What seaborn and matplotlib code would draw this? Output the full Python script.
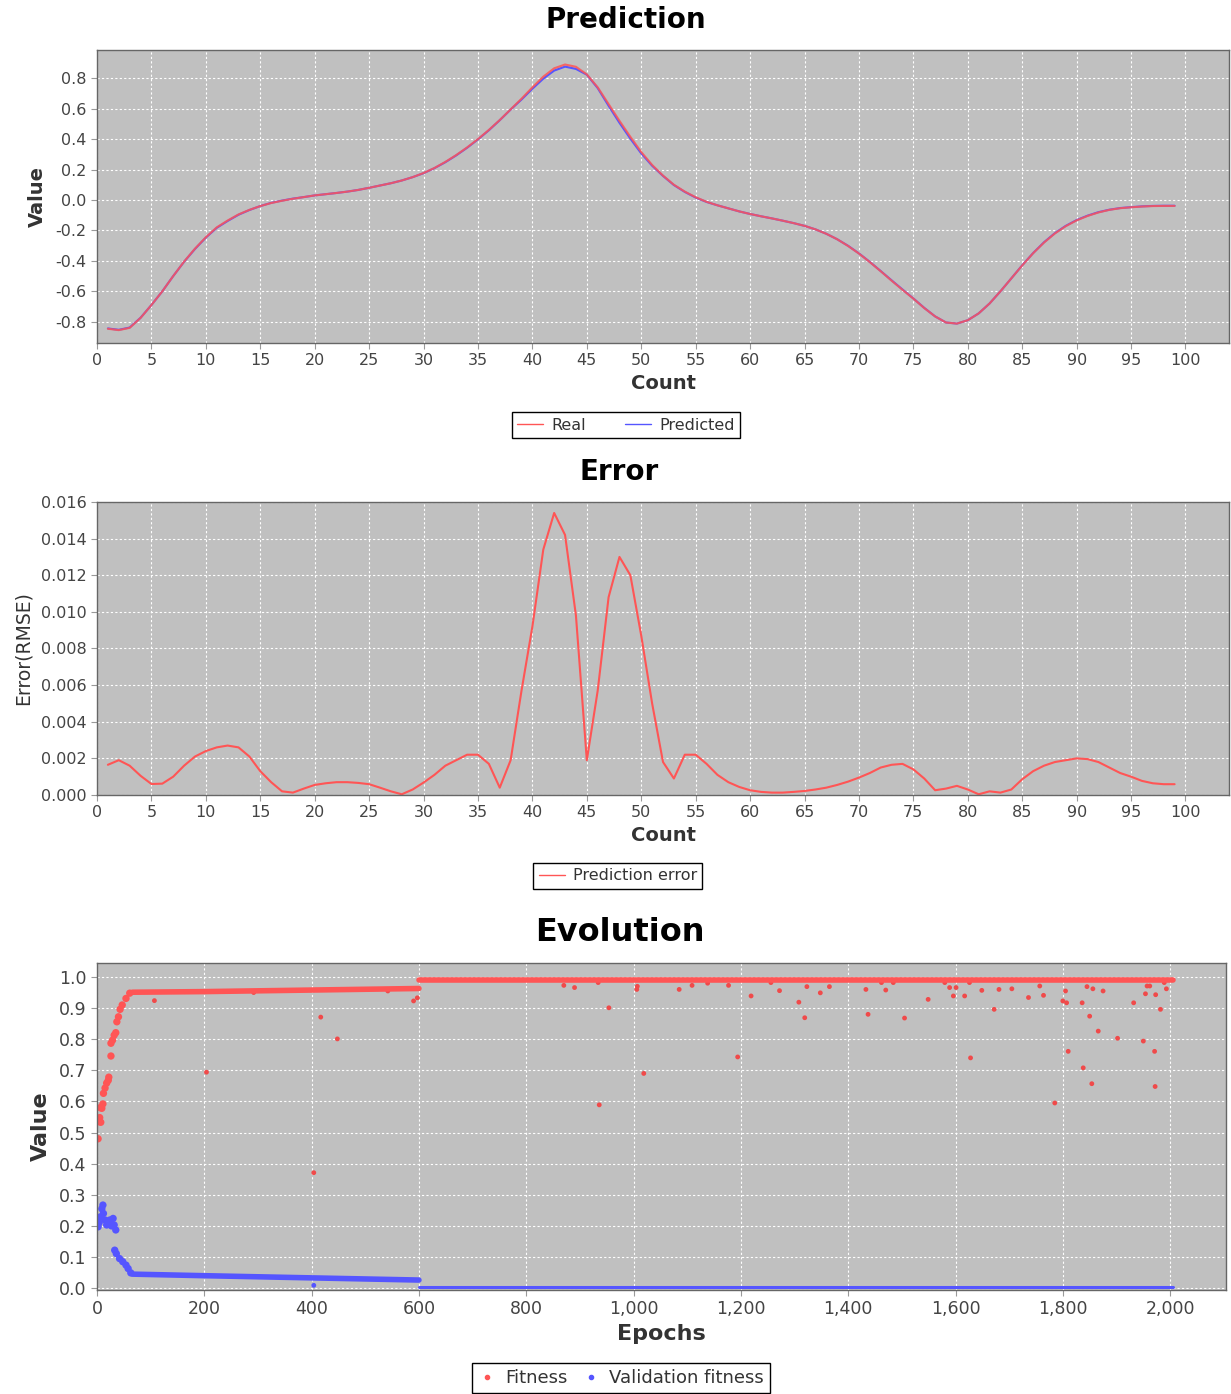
import numpy as np
import pandas as pd
import matplotlib
matplotlib.use('Agg')
import matplotlib.pyplot as plt
from matplotlib.lines import Line2D
from matplotlib.ticker import FuncFormatter, MultipleLocator
import seaborn as sns

# --- prediction panel ---
count = np.arange(1, 100)
real = [-0.846, -0.855, -0.84, -0.775, -0.69, -0.6, -0.5, -0.405, -0.32, -0.245,
        -0.18, -0.135, -0.095, -0.065, -0.04, -0.02, -0.005, 0.008, 0.019, 0.03,
        0.038, 0.046, 0.055, 0.066, 0.08, 0.095, 0.11, 0.128, 0.15, 0.177,
        0.21, 0.25, 0.295, 0.345, 0.4, 0.46, 0.525, 0.595, 0.665, 0.74,
        0.81, 0.865, 0.89, 0.875, 0.825, 0.74, 0.63, 0.52, 0.415, 0.315,
        0.23, 0.16, 0.1, 0.055, 0.018, -0.012, -0.035, -0.055, -0.075, -0.092,
        -0.107, -0.121, -0.136, -0.152, -0.17, -0.193, -0.222, -0.258, -0.302, -0.352,
        -0.408, -0.468, -0.53, -0.59, -0.648, -0.71, -0.765, -0.805, -0.812, -0.79,
        -0.745, -0.68, -0.6, -0.515, -0.43, -0.35, -0.28, -0.22, -0.172, -0.134,
        -0.105, -0.082, -0.065, -0.054, -0.048, -0.043, -0.04, -0.039, -0.039]
predicted = [-0.844, -0.853, -0.838, -0.774, -0.69, -0.6, -0.5, -0.406, -0.322, -0.247,
             -0.183, -0.138, -0.097, -0.066, -0.04, -0.019, -0.004, 0.009, 0.019, 0.03,
             0.038, 0.046, 0.055, 0.066, 0.08, 0.095, 0.11, 0.128, 0.15, 0.176,
             0.209, 0.248, 0.293, 0.343, 0.398, 0.458, 0.524, 0.594, 0.66, 0.731,
             0.797, 0.85, 0.876, 0.861, 0.823, 0.735, 0.619, 0.507, 0.403, 0.306,
             0.225, 0.158, 0.098, 0.053, 0.016, -0.013, -0.035, -0.055, -0.075, -0.092,
             -0.107, -0.121, -0.136, -0.152, -0.17, -0.193, -0.222, -0.258, -0.301, -0.351,
             -0.407, -0.467, -0.528, -0.588, -0.647, -0.709, -0.765, -0.805, -0.812, -0.79,
             -0.745, -0.68, -0.6, -0.515, -0.429, -0.349, -0.278, -0.218, -0.17, -0.132,
             -0.103, -0.08, -0.064, -0.053, -0.047, -0.042, -0.039, -0.038, -0.038]

# --- error panel ---
error = [0.00165, 0.0019, 0.0016, 0.00105, 0.0006, 0.00062, 0.001, 0.0016, 0.0021, 0.0024,
         0.0026, 0.0027, 0.0026, 0.0021, 0.0013, 0.0007, 0.0002, 0.00013, 0.00035, 0.00055,
         0.00064, 0.0007, 0.0007, 0.00066, 0.00059, 0.0004, 0.0002, 0.00004, 0.0003, 0.00068,
         0.0011, 0.0016, 0.0019, 0.0022, 0.0022, 0.0017, 0.0004, 0.0019, 0.0057, 0.0092,
         0.0134, 0.0154, 0.0142, 0.0098, 0.0019, 0.0057, 0.0108, 0.013, 0.012, 0.0087,
         0.005, 0.0018, 0.0009, 0.0022, 0.0022, 0.0017, 0.0011, 0.0007, 0.00044, 0.00026,
         0.00017, 0.00013, 0.00013, 0.00017, 0.00022, 0.0003, 0.0004, 0.00055, 0.00073, 0.00095,
         0.0012, 0.0015, 0.00165, 0.0017, 0.0014, 0.0009, 0.00026, 0.00035, 0.0005, 0.0003,
         0.00004, 0.0002, 0.00013, 0.0003, 0.00086, 0.0013, 0.0016, 0.0018, 0.0019, 0.002,
         0.00196, 0.0018, 0.0015, 0.0012, 0.001, 0.00077, 0.00064, 0.00059, 0.00059]

# --- evolution panel ---
fit_early_epoch = [2, 4, 5, 6, 7, 9, 11, 12, 15, 18, 21, 22, 26, 26, 29, 32, 35, 37, 40, 43, 47, 54, 61]
fit_early_value = [0.48, 0.535, 0.548, 0.58, 0.533, 0.578, 0.592, 0.626, 0.643, 0.659, 0.668, 0.678,
                   0.746, 0.787, 0.797, 0.813, 0.821, 0.856, 0.872, 0.896, 0.91, 0.931, 0.948]
fit_band1_epoch = [66, 200, 400, 600]
fit_band1_value = [0.951, 0.953, 0.958, 0.963]
fit_band2_epoch = [601, 2005]
fit_band2_value = [0.991, 0.991]
fit_out_epoch = [107, 204, 292, 404, 417, 448, 542, 590, 597, 870, 890, 934, 936, 954,
                 1006, 1007, 1019, 1085, 1109, 1138, 1177, 1194, 1219, 1256, 1272, 1308,
                 1319, 1323, 1348, 1365, 1433, 1437, 1462, 1470, 1484, 1505, 1549, 1580,
                 1589, 1596, 1601, 1617, 1626, 1628, 1649, 1672, 1681, 1705, 1736, 1757,
                 1764, 1785, 1800, 1805, 1807, 1810, 1836, 1838, 1845, 1850, 1854, 1856,
                 1866, 1875, 1902, 1932, 1950, 1954, 1957, 1962, 1971, 1972, 1973, 1982,
                 1989, 1993]
fit_out_value = [0.924, 0.694, 0.95, 0.371, 0.871, 0.801, 0.955, 0.923, 0.933, 0.973, 0.966,
                 0.982, 0.589, 0.901, 0.96, 0.97, 0.69, 0.96, 0.973, 0.98, 0.973, 0.743,
                 0.939, 0.982, 0.956, 0.919, 0.869, 0.969, 0.949, 0.969, 0.96, 0.88, 0.982,
                 0.958, 0.982, 0.868, 0.928, 0.982, 0.966, 0.939, 0.966, 0.939, 0.982, 0.74,
                 0.957, 0.896, 0.96, 0.962, 0.934, 0.971, 0.941, 0.595, 0.923, 0.955, 0.917,
                 0.761, 0.917, 0.708, 0.969, 0.874, 0.657, 0.962, 0.826, 0.955, 0.803, 0.917,
                 0.794, 0.946, 0.971, 0.971, 0.761, 0.648, 0.943, 0.896, 0.982, 0.962]

val_early_epoch = [2, 4, 6, 9, 11, 12, 15, 18, 21, 24, 27, 30, 32, 33, 35, 36, 42, 48, 54, 58, 63]
val_early_value = [0.197, 0.21, 0.229, 0.255, 0.267, 0.24, 0.219, 0.203, 0.21, 0.219, 0.2, 0.224,
                   0.203, 0.122, 0.187, 0.111, 0.095, 0.085, 0.074, 0.063, 0.049]
val_band1_epoch = [66, 200, 400, 600]
val_band1_value = [0.045, 0.040, 0.033, 0.026]
val_band2_epoch = [601, 2005]
val_band2_value = [0.004, 0.004]
val_out_epoch = [404]
val_out_value = [0.009]

RED = '#ff5555'
BLUE = '#5555ff'
BG = '#c0c0c0'

sns.set_style('darkgrid', {
    'axes.facecolor': BG,
    'grid.color': 'white',
    'grid.linestyle': (0, (2, 2)),
    'axes.edgecolor': '#555555',
})
plt.rcParams['font.family'] = ['DejaVu Sans']
plt.rcParams['grid.linewidth'] = 0.8

fig = plt.figure(figsize=(12.31, 13.94), dpi=100)
ax1 = fig.add_axes([0.0788, 0.7539, 0.9196, 0.2102])
ax2 = fig.add_axes([0.0788, 0.4297, 0.9196, 0.2102])
ax3 = fig.add_axes([0.0788, 0.0746, 0.9171, 0.2346])


def style_axis(ax):
    for sp in ax.spines.values():
        sp.set_visible(True)
        sp.set_color('#666666')
        sp.set_linewidth(1.0)
    ax.tick_params(axis='both', which='major', direction='out', length=4,
                   width=0.8, color='#999999', labelsize=11.5, labelcolor='#444444',
                   bottom=True, left=True)
    ax.grid(True, color='white', linestyle=(0, (2, 2)), linewidth=0.8)


# Prediction
pred_df = pd.DataFrame({'count': count, 'Real': real, 'Predicted': predicted})
sns.lineplot(data=pred_df, x='count', y='Predicted', ax=ax1, color=BLUE, linewidth=1.5)
sns.lineplot(data=pred_df, x='count', y='Real', ax=ax1, color=RED, linewidth=1.5, alpha=0.85)
ax1.set_xlim(0, 104)
ax1.set_ylim(-0.94, 0.985)
ax1.xaxis.set_major_locator(MultipleLocator(5))
ax1.yaxis.set_major_locator(MultipleLocator(0.2))
ax1.yaxis.set_major_formatter(FuncFormatter(lambda v, p: f'{v:.1f}'))
ax1.set_xlabel('Count', fontsize=14, fontweight='bold', color='#333333', labelpad=4)
ax1.set_ylabel('Value', fontsize=14, fontweight='bold', color='#333333', labelpad=6)
style_axis(ax1)

# Error
err_df = pd.DataFrame({'count': count, 'error': error})
sns.lineplot(data=err_df, x='count', y='error', ax=ax2, color=RED, linewidth=1.5)
ax2.set_xlim(0, 104)
ax2.set_ylim(0, 0.016)
ax2.xaxis.set_major_locator(MultipleLocator(5))
ax2.yaxis.set_major_locator(MultipleLocator(0.002))
ax2.yaxis.set_major_formatter(FuncFormatter(lambda v, p: f'{v:.3f}'))
ax2.set_xlabel('Count', fontsize=14, fontweight='bold', color='#333333', labelpad=4)
ax2.set_ylabel('Error(RMSE)', fontsize=13.5, color='#333333', labelpad=6)
style_axis(ax2)

# Evolution
sns.lineplot(x=val_band1_epoch, y=val_band1_value, ax=ax3, color=BLUE, linewidth=4)
sns.lineplot(x=val_band2_epoch, y=val_band2_value, ax=ax3, color=BLUE, linewidth=2.2)
sns.scatterplot(x=val_early_epoch, y=val_early_value, ax=ax3, color=BLUE, s=28,
                edgecolor='none')
sns.scatterplot(x=val_out_epoch, y=val_out_value, ax=ax3, color=BLUE, s=12, edgecolor='none')
sns.lineplot(x=fit_band1_epoch, y=fit_band1_value, ax=ax3, color=RED, linewidth=4)
sns.lineplot(x=fit_band2_epoch, y=fit_band2_value, ax=ax3, color=RED, linewidth=4)
sns.scatterplot(x=fit_early_epoch, y=fit_early_value, ax=ax3, color=RED, s=28,
                edgecolor='none')
sns.scatterplot(x=fit_out_epoch, y=fit_out_value, ax=ax3, color='#f04a4a', s=12,
                edgecolor='none')
ax3.set_xlim(0, 2104)
ax3.set_ylim(-0.006, 1.045)
ax3.xaxis.set_major_locator(MultipleLocator(200))
ax3.xaxis.set_major_formatter(FuncFormatter(lambda v, p: f'{int(v):,}'))
ax3.yaxis.set_major_locator(MultipleLocator(0.1))
ax3.yaxis.set_major_formatter(FuncFormatter(lambda v, p: f'{v:.1f}'))
ax3.set_xlabel('Epochs', fontsize=16, fontweight='bold', color='#333333', labelpad=4)
ax3.set_ylabel('Value', fontsize=16, fontweight='bold', color='#333333', labelpad=6)
style_axis(ax3)
ax3.tick_params(labelsize=12.5)

# titles
fig.text(0.5085, 0.9857, 'Prediction', ha='center', va='center', fontsize=20,
         fontweight='bold', color='black')
fig.text(0.503, 0.6614, 'Error', ha='center', va='center', fontsize=20,
         fontweight='bold', color='black')
fig.text(0.5037, 0.3314, 'Evolution', ha='center', va='center', fontsize=23,
         fontweight='bold', color='black')

# legends
leg_kw = dict(loc='center', frameon=True, fancybox=False, framealpha=1,
              facecolor='white', edgecolor='black', borderpad=0.35, handletextpad=0.5)
h1 = [Line2D([], [], color=RED, lw=1), Line2D([], [], color=BLUE, lw=1)]
l1 = fig.legend(h1, ['Real', 'Predicted'], bbox_to_anchor=(0.5085, 0.6951), ncol=2,
                fontsize=11.5, handlelength=1.6, columnspacing=2.5, **leg_kw)
h2 = [Line2D([], [], color=RED, lw=1)]
l2 = fig.legend(h2, ['Prediction error'], bbox_to_anchor=(0.502, 0.3716),
                fontsize=11.5, handlelength=1.6, **leg_kw)
h3 = [Line2D([], [], color=RED, lw=0, marker='o', markersize=3),
      Line2D([], [], color=BLUE, lw=0, marker='o', markersize=3)]
l3 = fig.legend(h3, ['Fitness', 'Validation fitness'], bbox_to_anchor=(0.5045, 0.0115),
                ncol=2, fontsize=13, handlelength=1.0, columnspacing=0.8, **leg_kw)
for lg in (l1, l2, l3):
    lg.get_frame().set_linewidth(1.0)
    for t in lg.get_texts():
        t.set_color('#333333')

fig.savefig('out.png', dpi=100)
